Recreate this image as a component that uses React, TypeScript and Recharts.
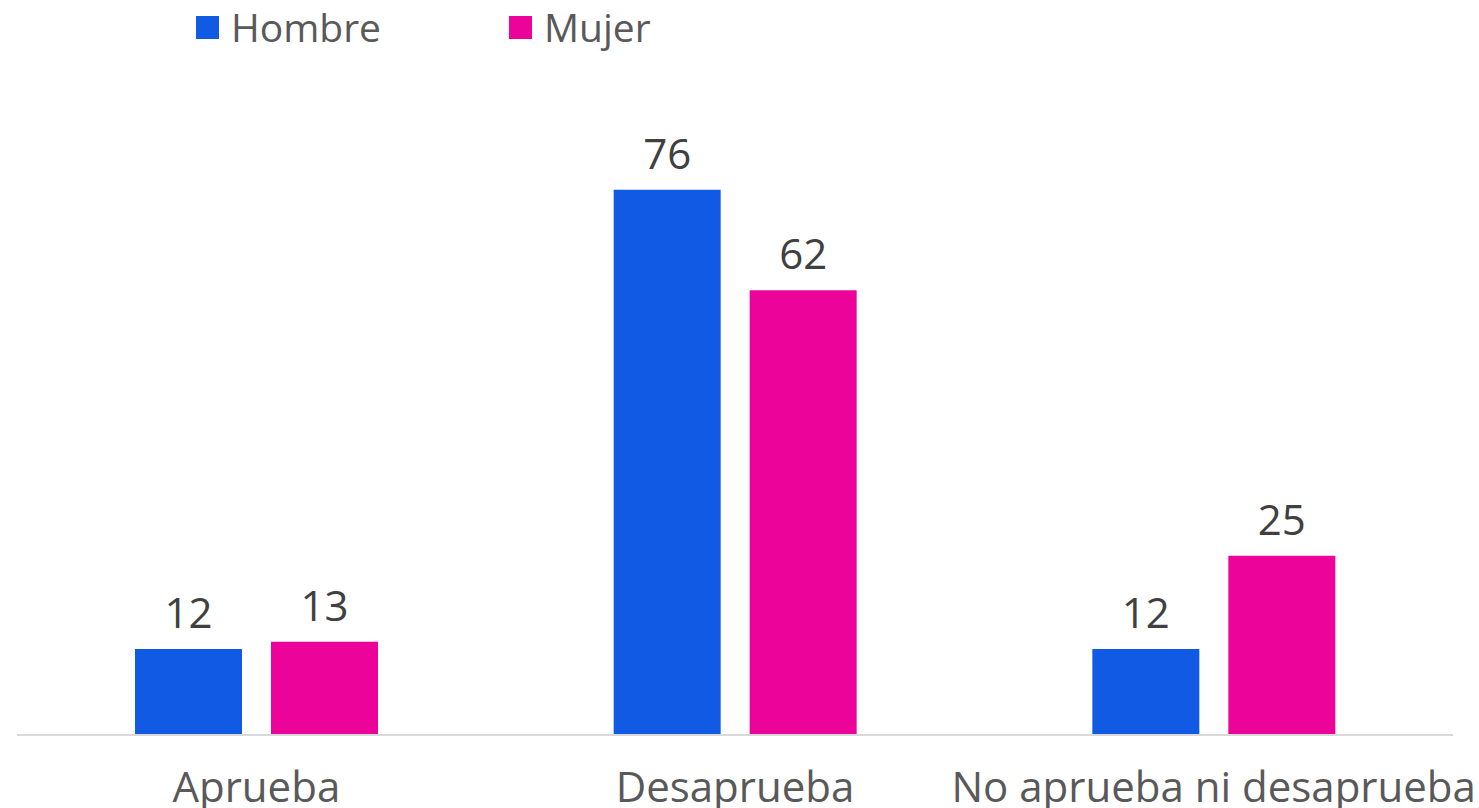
import React from "react";
import { BarChart, Bar, XAxis, YAxis, Legend, LabelList } from "recharts";

const categories = ["Aprueba", "Desaprueba", "No aprueba ni desaprueba"];
const hombre = [12, 76, 12];
const mujer = [13, 62, 25];
const seriesNames = ["Hombre", "Mujer"];
const colors = ["#115AE4", "#EC0399"];

const data = categories.map((c, i) => ({ name: c, Hombre: hombre[i], Mujer: mujer[i] }));

const FONT = "'Open Sans', Roboto, sans-serif";

const LegendContent = () => (
  <div style={{ display: "flex", alignItems: "center", fontFamily: FONT, height: 54 }}>
    {seriesNames.map((n, i) => (
      <div key={n} style={{ display: "flex", alignItems: "center", width: i === 0 ? 313 : "auto" }}>
        <div style={{ width: 23, height: 23, background: colors[i], marginRight: 12 }} />
        <span style={{ fontSize: 39, color: "#595959", lineHeight: "54px" }}>{n}</span>
      </div>
    ))}
  </div>
);

export default function App() {
  return (
    <div style={{ position: "absolute", left: 0, top: 0, width: 1479, height: 808, background: "#fff" }}>
      <BarChart
        width={1479}
        height={808}
        data={data}
        margin={{ top: 107, right: 26, bottom: 0, left: 17 }}
        barSize={107}
        barGap={29}
      >
        <XAxis
          dataKey="name"
          height={73}
          tickLine={false}
          tickSize={0}
          tickMargin={37}
          axisLine={{ stroke: "#d9d9d9", strokeWidth: 2 }}
          tick={{ fill: "#595959", fontSize: 42, fontFamily: FONT }}
          interval={0}
        />
        <YAxis hide domain={[0, 80]} />
        <Legend
          content={<LegendContent />}
          verticalAlign="top"
          wrapperStyle={{ position: "absolute", top: 0, left: 196, width: 800, height: 54 }}
        />
        {seriesNames.map((n, i) => (
          <Bar key={n} dataKey={n} fill={colors[i]} isAnimationActive={false}>
            <LabelList
              dataKey={n}
              position="top"
              offset={21}
              style={{ fill: "#404040", fontSize: 42, fontFamily: FONT }}
            />
          </Bar>
        ))}
      </BarChart>
    </div>
  );
}
